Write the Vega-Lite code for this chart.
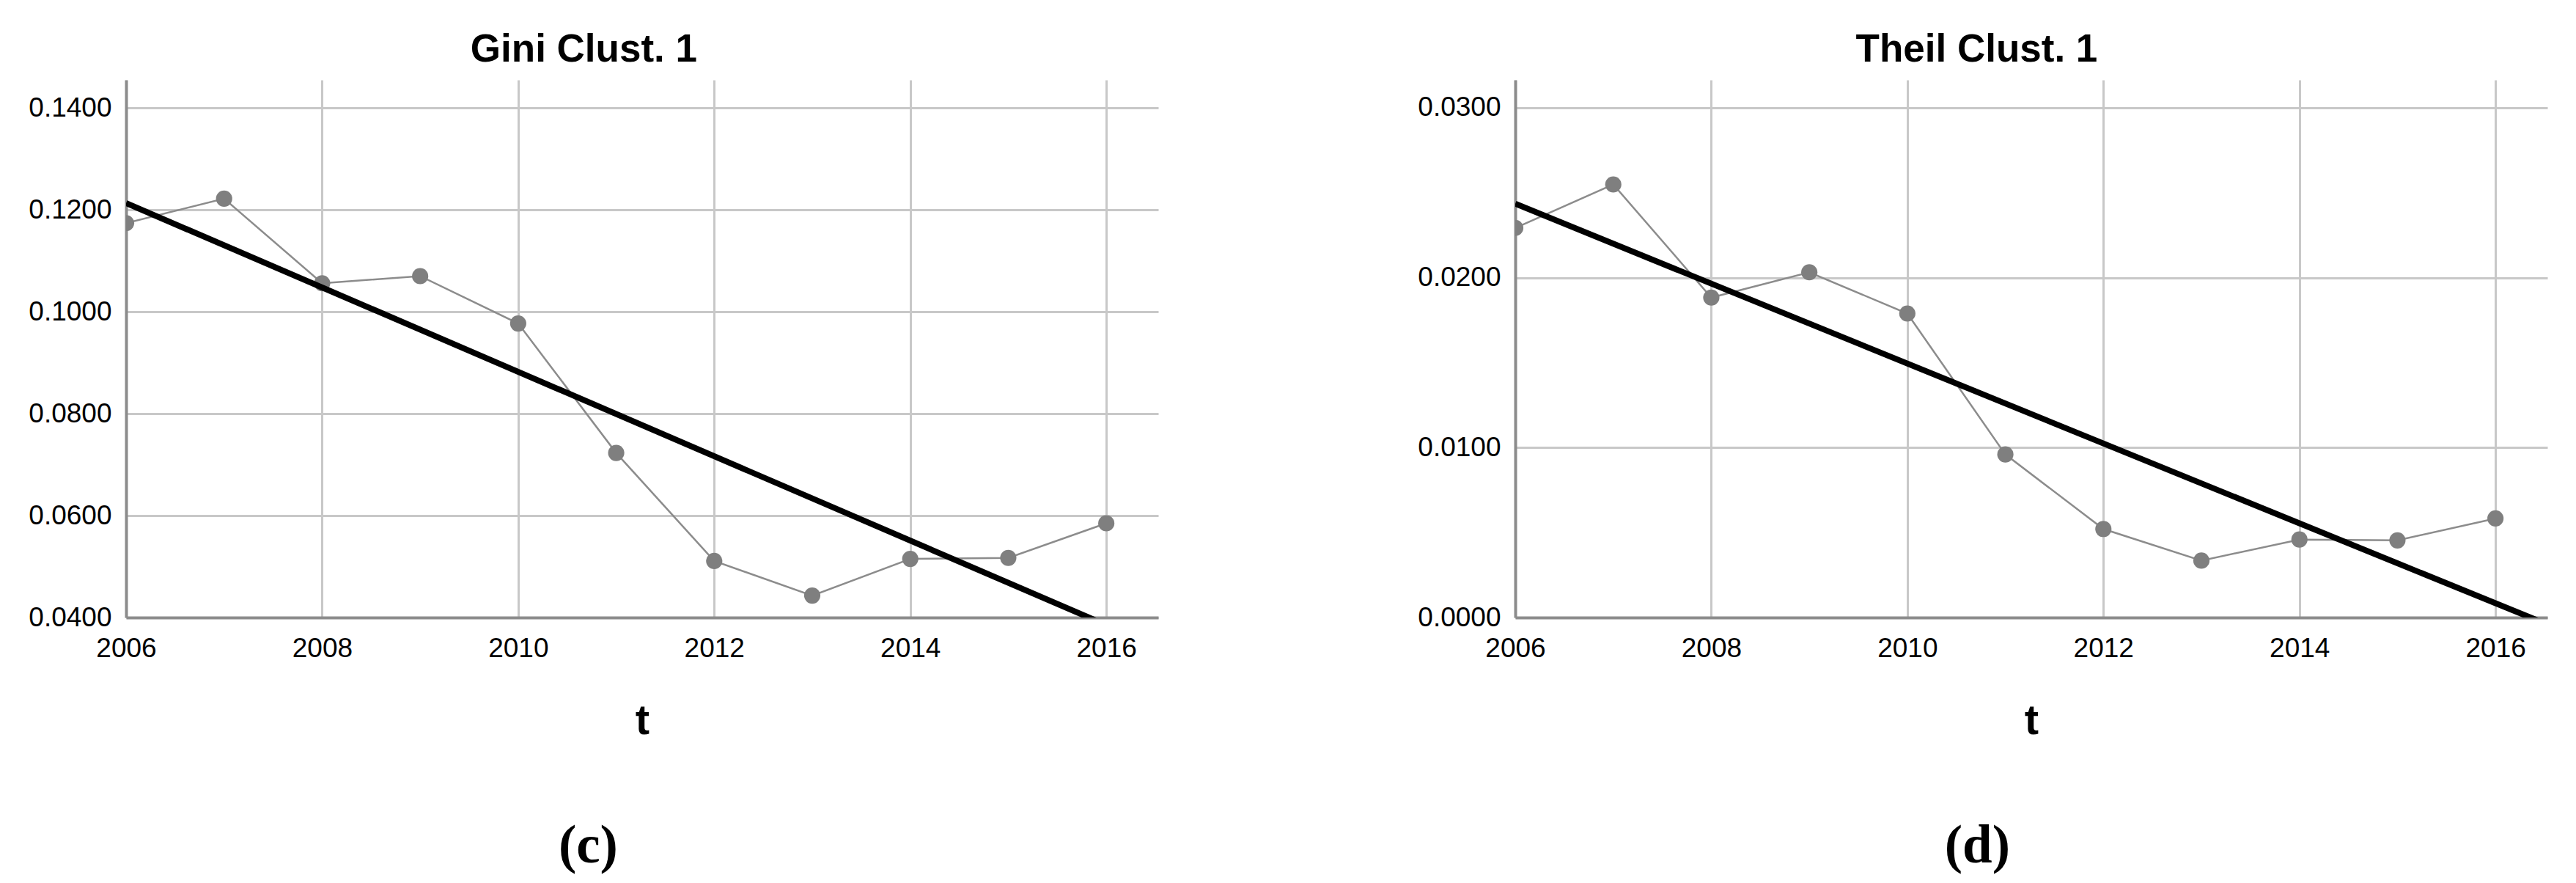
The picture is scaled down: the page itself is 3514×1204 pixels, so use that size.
{
  "$schema": "https://vega.github.io/schema/vega-lite/v6.json",
  "background": "white",
  "padding": {"left": 38, "top": 42, "right": 5, "bottom": 5},
  "spacing": 353,
  "datasets": {
    "gini": [
      {"t": 2006, "value": 0.1174},
      {"t": 2007, "value": 0.1222},
      {"t": 2008, "value": 0.1056},
      {"t": 2009, "value": 0.1070},
      {"t": 2010, "value": 0.0977},
      {"t": 2011, "value": 0.0723},
      {"t": 2012, "value": 0.0511},
      {"t": 2013, "value": 0.0443},
      {"t": 2014, "value": 0.0515},
      {"t": 2015, "value": 0.0517},
      {"t": 2016, "value": 0.0585}
    ],
    "theil": [
      {"t": 2006, "value": 0.02293},
      {"t": 2007, "value": 0.02549},
      {"t": 2008, "value": 0.01883},
      {"t": 2009, "value": 0.02032},
      {"t": 2010, "value": 0.01789},
      {"t": 2011, "value": 0.00960},
      {"t": 2012, "value": 0.00521},
      {"t": 2013, "value": 0.00335},
      {"t": 2014, "value": 0.00459},
      {"t": 2015, "value": 0.00454},
      {"t": 2016, "value": 0.00583}
    ]
  },
  "hconcat": [
    {
      "title": {"text": "(c)", "orient": "bottom", "anchor": "middle", "frame": "bounds", "font": "Liberation Serif", "fontSize": 73, "fontWeight": "bold", "color": "#000000", "offset": 106, "dx": -7},
      "vconcat": [
        {
          "title": {"text": "Gini Clust. 1", "anchor": "middle", "frame": "bounds", "font": "Liberation Sans", "fontSize": 53, "fontWeight": "bold", "color": "#000000", "offset": 14, "dx": -13},
          "width": 1408,
          "height": 733,
          "data": {"name": "gini"},
          "layer": [
            {
              "mark": {"type": "line", "color": "#8c8c8c", "strokeWidth": 2.5, "clip": true},
              "encoding": {
                "x": {"field": "t", "type": "quantitative", "scale": {"domain": [2006, 2016.53], "nice": false, "zero": false}, "axis": {"values": [2006, 2008, 2010, 2012, 2014, 2016], "format": "d", "title": "t"}},
                "y": {"field": "value", "type": "quantitative", "scale": {"domain": [0.04, 0.1455], "nice": false, "zero": false}, "axis": {"values": [0.04, 0.06, 0.08, 0.10, 0.12, 0.14], "format": ".4f", "title": null}}
              }
            },
            {
              "mark": {"type": "point", "filled": true, "size": 490, "color": "#7f7f7f", "opacity": 1, "clip": true},
              "encoding": {
                "x": {"field": "t", "type": "quantitative"},
                "y": {"field": "value", "type": "quantitative"}
              }
            },
            {
              "transform": [{"regression": "value", "on": "t", "extent": [2006, 2016.53]}],
              "mark": {"type": "line", "color": "#000000", "strokeWidth": 8, "clip": true},
              "encoding": {
                "x": {"field": "t", "type": "quantitative"},
                "y": {"field": "value", "type": "quantitative"}
              }
            }
          ]
        }
      ]
    },
    {
      "title": {"text": "(d)", "orient": "bottom", "anchor": "middle", "frame": "bounds", "font": "Liberation Serif", "fontSize": 73, "fontWeight": "bold", "color": "#000000", "offset": 106, "dx": -7},
      "vconcat": [
        {
          "title": {"text": "Theil Clust. 1", "anchor": "middle", "frame": "bounds", "font": "Liberation Sans", "fontSize": 53, "fontWeight": "bold", "color": "#000000", "offset": 14, "dx": -8},
          "width": 1408,
          "height": 733,
          "data": {"name": "theil"},
          "layer": [
            {
              "mark": {"type": "line", "color": "#8c8c8c", "strokeWidth": 2.5, "clip": true},
              "encoding": {
                "x": {"field": "t", "type": "quantitative", "scale": {"domain": [2006, 2016.53], "nice": false, "zero": false}, "axis": {"values": [2006, 2008, 2010, 2012, 2014, 2016], "format": "d", "title": "t"}},
                "y": {"field": "value", "type": "quantitative", "scale": {"domain": [0, 0.03164], "nice": false, "zero": false}, "axis": {"values": [0, 0.01, 0.02, 0.03], "format": ".4f", "title": null}}
              }
            },
            {
              "mark": {"type": "point", "filled": true, "size": 490, "color": "#7f7f7f", "opacity": 1, "clip": true},
              "encoding": {
                "x": {"field": "t", "type": "quantitative"},
                "y": {"field": "value", "type": "quantitative"}
              }
            },
            {
              "transform": [{"regression": "value", "on": "t", "extent": [2006, 2016.53]}],
              "mark": {"type": "line", "color": "#000000", "strokeWidth": 8, "clip": true},
              "encoding": {
                "x": {"field": "t", "type": "quantitative"},
                "y": {"field": "value", "type": "quantitative"}
              }
            }
          ]
        }
      ]
    }
  ],
  "config": {
    "view": {"stroke": null},
    "axis": {
      "domainColor": "#8c8c8c",
      "domainWidth": 4,
      "gridColor": "#c8c8c8",
      "gridWidth": 3,
      "ticks": false,
      "labelFont": "Liberation Sans",
      "labelFontSize": 37,
      "labelColor": "#000000",
      "labelPadding": 20,
      "titleFont": "Liberation Sans",
      "titleFontSize": 58,
      "titleFontWeight": "bold",
      "titleColor": "#000000"
    },
    "axisX": {"labelPadding": 24, "titlePadding": 52, "labelFlush": false},
    "axisY": {"labelFlush": false}
  }
}
